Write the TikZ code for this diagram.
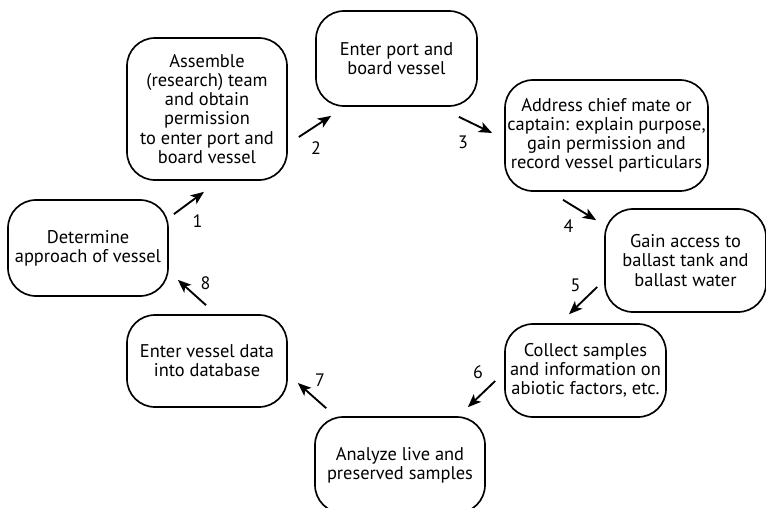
\documentclass[tikz,border=0pt]{standalone}
\usepackage{fontspec}
\setmainfont{PT Sans}
\usetikzlibrary{arrows.meta}

\begin{document}
\begin{tikzpicture}[x=0.75pt,y=-0.75pt,
    stepbox/.style={draw,line width=1.25pt,rounded corners=21pt,align=center,inner sep=0pt,
        font=\fontsize{13.8}{14.3}\selectfont},
    flow/.style={line width=1.4pt,-{Stealth[length=10pt,width=8pt,inset=2.5pt]}},
    num/.style={font=\fontsize{13.5}{14}\selectfont}]
    \useasboundingbox (0,0) rectangle (766,507);
    \clip (0,0) rectangle (766,507);

    % the eight steps
    \node[stepbox,minimum width=120pt,minimum height=72pt] (det) at (88,248) {Determine\\approach of vessel};
    \node[stepbox,minimum width=120pt,minimum height=106.5pt] (asm) at (207,109) {Assemble\\(research) team\\and obtain\\permission\\to enter port and\\board vessel};
    \node[stepbox,minimum width=120.75pt,minimum height=71.25pt] (port) at (396.5,58.5) {Enter port and\\board vessel};
    \node[stepbox,minimum width=152.25pt,minimum height=83.25pt] (addr) at (606.5,135.5) {Address chief mate or\\captain: explain purpose,\\gain permission and\\record vessel particulars};
    \node[stepbox,minimum width=120.75pt,minimum height=77.25pt] (gain) at (685.5,260.5) {Gain access to\\ballast tank and\\ballast water};
    \node[stepbox,minimum width=120.75pt,minimum height=69.75pt] (coll) at (585.5,370.5) {Collect samples\\and information on\\abiotic factors, etc.};
    \node[stepbox,minimum width=127.5pt,minimum height=72pt] (anl) at (400,465) {Analyze live and\\preserved samples};
    \node[stepbox,minimum width=120pt,minimum height=69pt] (data) at (207,361) {Enter vessel data\\into database};

    % numbered arrows
    \draw[flow] ([shift={(5,15)}]det.north east) -- node[num,shift={(8.5,18)}]{1} ([shift={(-3,11)}]asm.south);
    \draw[flow] ([shift={(11,28)}]asm.east) -- node[num,shift={(1,22)}]{2} ([shift={(16,9)}]port.south west);
    \draw[flow] ([shift={(-19,10)}]port.south east) -- node[num,shift={(-12.5,17.5)}]{3} ([shift={(-12,-2.5)}]addr.west);
    \draw[flow] ([shift={(-43.5,8)}]addr.south) -- node[num,shift={(-11,16)}]{4} ([shift={(-8,12)}]gain.north west);
    \draw[flow] ([shift={(-7,26.5)}]gain.west) -- node[num,shift={(-7.5,-15)}]{5} ([shift={(-16.5,-9)}]coll.north);
    \draw[flow] ([shift={(-9,10.5)}]coll.west) -- node[num,shift={(-3.5,-21.5)}]{6} ([shift={(-18,-9)}]anl.north east);
    \draw[flow] ([shift={(12,-8)}]anl.north west) -- node[num,shift={(8,-15)}]{7} ([shift={(10,22)}]data.east);
    \draw[flow] ([shift={(-1,-9)}]data.north) -- node[num,shift={(13.5,-9.5)}]{8} ([shift={(9,-17)}]det.south east);
\end{tikzpicture}
\end{document}
